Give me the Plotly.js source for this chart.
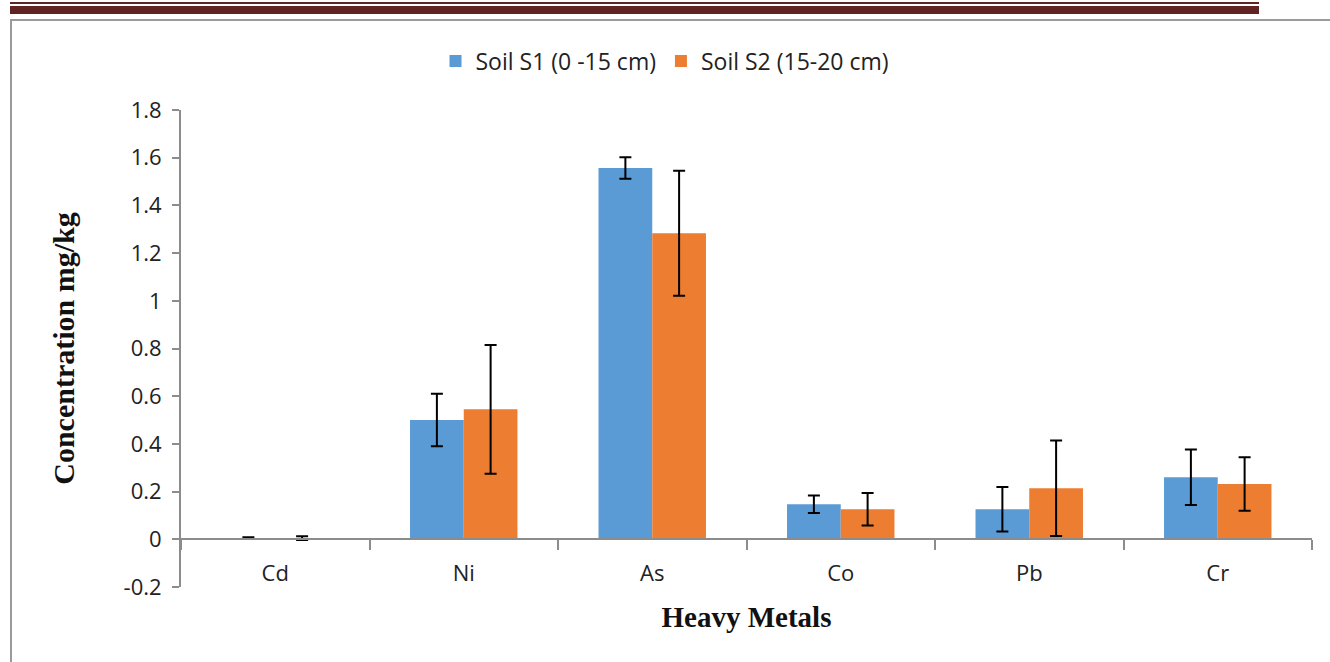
<!DOCTYPE html>
<html>
<head>
<meta charset="utf-8">
<script src="https://cdn.plot.ly/plotly-3.0.1.min.js"></script>
<style>
  html, body { margin: 0; padding: 0; background: #fff; }
  #wrap { position: relative; width: 1330px; height: 662px; overflow: hidden; }
  #chart { position: absolute; left: 0; top: 0; width: 1330px; height: 662px; }
  .thin { position: absolute; left: 10px; top: 2px; width: 1249px; height: 2px; background: #622423; }
  .thick { position: absolute; left: 10px; top: 6px; width: 1249px; height: 8px; background: #622423; }
  .box { position: absolute; left: 10px; top: 19px; width: 1330px; height: 700px; border-left: 2px solid #9a9a9a; border-top: 2px solid #9a9a9a; }
</style>
</head>
<body>
<div id="wrap">
  <div class="thin"></div>
  <div class="thick"></div>
  <div class="box"></div>
  <div id="chart"></div>
</div>
<script>
const metals = ["Cd", "Ni", "As", "Co", "Pb", "Cr"];
const s1Name = "Soil S1 (0 -15 cm)";
const s2Name = "Soil S2 (15-20 cm)";
const s1Values = [0.005, 0.50, 1.557, 0.147, 0.126, 0.26];
const s1Errors = [0.004, 0.11, 0.045, 0.037, 0.093, 0.116];
const s2Values = [0.005, 0.545, 1.283, 0.126, 0.214, 0.232];
const s2Errors = [0.008, 0.27, 0.262, 0.068, 0.20, 0.112];
const yTicks = [-0.2, 0, 0.2, 0.4, 0.6, 0.8, 1, 1.2, 1.4, 1.6, 1.8];
const yTickText = ["-0.2", "0", "0.2", "0.4", "0.6", "0.8", "1", "1.2", "1.4", "1.6", "1.8"];

const tickFont = { family: "Open Sans, Liberation Sans, sans-serif", size: 22, color: "#222" };
const titleFontX = { family: "Liberation Serif, Times New Roman, serif", size: 29, color: "#111", weight: "bold" };
const titleFontY = { family: "Liberation Serif, Times New Roman, serif", size: 30, color: "#111", weight: "bold" };

const errStyle = { type: "data", visible: true, color: "#000", thickness: 2, width: 6 };

const traces = [
  {
    type: "bar", name: s1Name, x: metals, y: s1Values,
    marker: { color: "#5B9BD5" },
    error_y: Object.assign({ array: s1Errors }, errStyle)
  },
  {
    type: "bar", name: s2Name, x: metals, y: s2Values,
    marker: { color: "#ED7D31" },
    error_y: Object.assign({ array: s2Errors }, errStyle)
  }
];

const layout = {
  width: 1330, height: 662,
  paper_bgcolor: "rgba(0,0,0,0)",
  plot_bgcolor: "rgba(0,0,0,0)",
  margin: { l: 181, r: 18, t: 110, b: 75 },
  barmode: "group",
  bargap: 0.43,
  bargroupgap: 0,
  showlegend: true,
  legend: {
    orientation: "h", x: 0.5, xanchor: "center", xref: "container",
    y: 1.0 - 61/662, yref: "container", yanchor: "middle",
    font: { family: "Open Sans, Liberation Sans, sans-serif", size: 23, color: "#222" },
    itemwidth: 30
  },
  xaxis: {
    type: "category",
    anchor: "free", position: 0.1,
    showline: true, linecolor: "#8c8c8c", linewidth: 2,
    ticks: "outside", tickson: "boundaries", ticklen: 10, tickcolor: "#8c8c8c", tickwidth: 2,
    ticklabelstandoff: 14,
    tickfont: tickFont,
    showgrid: false, zeroline: false,
    title: { text: "Heavy Metals", font: titleFontX, standoff: 20 }
  },
  yaxis: {
    range: [-0.2, 1.8],
    tickvals: yTicks, ticktext: yTickText,
    showline: true, linecolor: "#8c8c8c", linewidth: 2,
    ticks: "outside", ticklen: 7, tickcolor: "#8c8c8c", tickwidth: 2,
    ticklabelstandoff: 6,
    tickfont: tickFont,
    showgrid: false, zeroline: false,
    title: { text: "Concentration mg/kg", font: titleFontY, standoff: 40 }
  }
};

Plotly.newPlot("chart", traces, layout, { displayModeBar: false, staticPlot: true });
</script>
</body>
</html>
